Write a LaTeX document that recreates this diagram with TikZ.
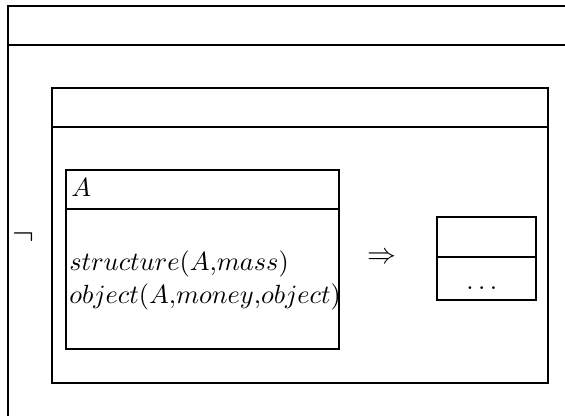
\documentclass[tikz,border=0pt]{standalone}
\usepackage{amsmath,amssymb}

\begin{document}
\begin{tikzpicture}[x=0.38pt,y=-0.38pt,line width=1pt,
    txt/.style={inner sep=0pt,anchor=base west}]
        \useasboundingbox (0,0) rectangle (565,416);
        \clip (0,0) rectangle (565,416);
        % outer box (runs off the page)
        \coordinate (OTL)    at (8,6);
        \draw (OTL) rectangle (600,450);
        \draw (8,45) -- (600,45);
        \node[scale=1.25] (neg) at (23,237) {$\neg$};
        % inner box
        \coordinate (ITL)    at (52,88);
        \coordinate (IBR)    at (548,383);
        \draw (ITL) rectangle (IBR);
        \draw (52,127) -- (548,127);
        % box A
        \coordinate (ATL)    at (66,170);
        \coordinate (ABR)    at (339,349);
        \draw (ATL) rectangle (ABR);
        \draw (66,209) -- (339,209);
        \node[txt] (nameA) at (70,196) {$A$};
        \node[txt] (cond1) at (68,270) {$structure(A{,}mass)$};
        \node[txt] (cond2) at (68,303) {$object(A{,}money{,}object)$};
        \node[scale=1.1] (impl) at (382,258) {$\Rightarrow$};
        % right box
        \coordinate (RTL)    at (437,217);
        \coordinate (RBR)    at (536,300);
        \draw (RTL) rectangle (RBR);
        \draw (437,257) -- (536,257);
        \node[inner sep=0pt,anchor=base] (dots) at (484,289) {$\dots$};
    \end{tikzpicture}
\end{document}
